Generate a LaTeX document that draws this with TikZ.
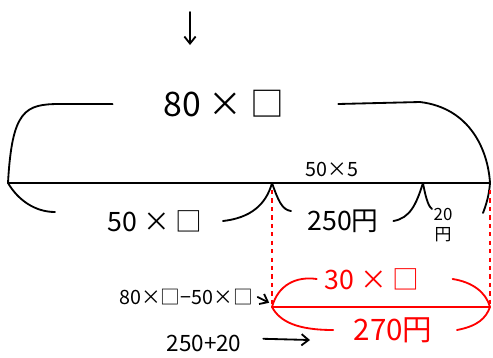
\documentclass[tikz,border=0pt]{standalone}
\usepackage{fontspec}
\setmainfont{Noto Sans CJK JP}
\usetikzlibrary{arrows.meta}

\tikzset{
  hand/.style={line width=1.3pt, line cap=round, line join=round},
  redhand/.style={hand, red},
  guide/.style={red, dashed, line width=0.9pt},
  tip/.style={-{Straight Barb[length=5pt,width=8pt]}},
  big/.style={font=\fontsize{24}{26}\selectfont},
  mid/.style={font=\fontsize{19}{21}\selectfont},
  small/.style={font=\fontsize{14}{16}\selectfont},
  tiny/.style={font=\fontsize{12}{14}\selectfont, align=center, inner sep=0pt},
}

\begin{document}
\begin{tikzpicture}[x=0.025cm, y=-0.025cm]
    \useasboundingbox (0,0) rectangle (493,357);

    % arrow from above
    \coordinate (from) at (190,12);
    \coordinate (to) at (190,45);
    \draw[hand, tip] (from) -- (to);

    % main bar
    \coordinate (L) at (8,183);
    \coordinate (M) at (272,183);
    \coordinate (N) at (423,183);
    \coordinate (R) at (490,183);
    \draw[hand] (L) -- (R);

    % labels
    \node[big] (total) at (224,104) {80 × □};
    \node[small] (five) at (332,169) {50×5};
    \node[mid] (part) at (155,221) {50 × □};
    \node[mid] (fix) at (343,221) {250円};
    \node[tiny] (twenty) at (443,225) {20\\円};

    % top brace
    \draw[hand] (L) .. controls (12,110) and (25,104) .. (60,104) -- ([xshift=-33pt]total.west);
    \draw[hand] ([xshift=35pt]total.east) -- (420,102) .. controls (470,108) and (488,150) .. (R);

    % lower braces
    \draw[hand] (L) .. controls (18,200) and (35,212) .. (55,212);
    \draw[hand] ([xshift=11pt]part.east) .. controls (250,218) and (266,205) .. (M);
    \draw[hand] (M) .. controls (278,200) and (282,210) .. (291,211);
    \draw[hand] ([xshift=7pt]fix.east) .. controls (410,218) and (416,205) .. (N);
    \draw[hand] (N) .. controls (426,200) and (429,207) .. (432,209);
    \draw[hand] (483,213) .. controls (486,205) and (489,196) .. (R);

    % red part
    \coordinate (rL) at (272,307);
    \coordinate (rR) at (490,307);
    \draw[guide] ([yshift=-5pt]M) -- (rL);
    \draw[guide] ([yshift=-5pt]R) -- (rR);
    \draw[redhand] (rL) -- (rR);

    \node[mid, red] (diff) at (372,279) {30 × □};
    \node[mid, red, font=\fontsize{21}{23}\selectfont] (rest) at (393,330) {270円};

    \draw[redhand] (rL) .. controls (278,285) and (296,276) .. ([xshift=-2pt]diff.west);
    \draw[redhand] ([xshift=20pt]diff.east) .. controls (472,282) and (486,292) .. (rR);
    \draw[redhand] (rL) .. controls (280,322) and (298,330) .. ([xshift=-11pt]rest.west);
    \draw[redhand] ([xshift=14pt]rest.east) .. controls (478,326) and (486,318) .. (rR);

    % working on the left
    \node[small] (expr) at (186,297) {80×□−50×□};
    \node[font=\fontsize{16}{18}\selectfont] (sum) at (204,343) {250+20};
    \coordinate (sumtip) at (310,340);
    \draw[hand, tip] (expr.east) -- ([xshift=-2pt, yshift=3pt]rL);
    \draw[hand, tip] ([xshift=12pt, yshift=3pt]sum.east) -- (sumtip);
\end{tikzpicture}
\end{document}
